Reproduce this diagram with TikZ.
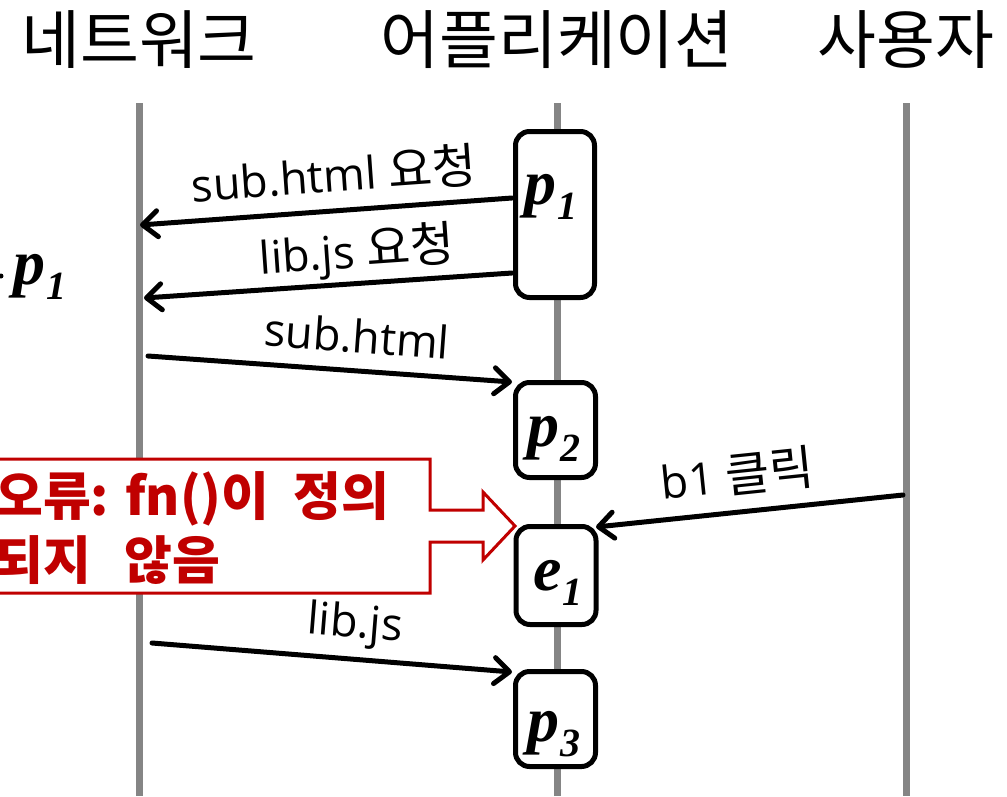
\documentclass[tikz,border=0pt]{standalone}
\usepackage{fontspec}
\setmainfont{Open Sans}
\newfontfamily\kr{Noto Sans CJK KR}
\newfontfamily\lser{Liberation Serif}
\usetikzlibrary{arrows.meta}
\definecolor{lifegray}{HTML}{858585}
\definecolor{errred}{HTML}{C00000}
\newcommand{\evlbl}[2]{{\lser\bfseries\itshape\fontsize{64}{64}\selectfont #1}\kern1pt\raisebox{-15pt}{\lser\bfseries\itshape\fontsize{40}{40}\selectfont #2}}
\newcommand{\krl}[1]{{\kr\fontsize{48}{48}\selectfont #1}}
\tikzset{
  hdr/.style={font=\kr\fontsize{64}{64}\selectfont, inner sep=0pt},
  life/.style={draw=lifegray, line width=7pt},
  evbox/.style={draw=black, fill=white, line width=5pt, rounded corners=14pt, inner sep=0pt},
  evtext/.style={inner sep=0pt, anchor=base},
  msg/.style={line width=5pt, line cap=round, -{Straight Barb[length=15pt,width=26pt,round]}},
  msglbl/.style={font=\fontsize{45}{45}\selectfont, inner sep=0pt},
  callout/.style={draw=errred, fill=white, line width=3pt},
  errtext/.style={font=\kr\bfseries\fontsize{52}{64}\selectfont, text=errred, align=left, inner sep=0pt}
}
\begin{document}
\begin{tikzpicture}[x=1pt,y=-1pt]
\useasboundingbox (0,0) rectangle (1007,796);
% headers
\node[hdr] (hnet) at (139,40) {네트워크};
\node[hdr] (happ) at (557,40) {어플리케이션};
\node[hdr] (husr) at (906,40) {사용자};
% lifelines
\coordinate (nettop) at (139,103); \coordinate (netbot) at (139,796);
\coordinate (apptop) at (557,103); \coordinate (appbot) at (557,796);
\coordinate (usrtop) at (906,103); \coordinate (usrbot) at (906,796);
\draw[life] (nettop) -- (netbot);
\draw[life] (apptop) -- (appbot);
\draw[life] (usrtop) -- (usrbot);
% event boxes
\node[evbox, minimum width=79pt, minimum height=166pt] (bp1) at (555,214.5) {};
\node[evbox, minimum width=80pt, minimum height=95pt] (bp2) at (555.5,430) {};
\node[evbox, minimum width=80pt, minimum height=98pt] (be1) at (556,575.5) {};
\node[evbox, minimum width=80pt, minimum height=95pt] (bp3) at (555.5,719) {};
\node[evtext] (lp1) at (551,204) {\evlbl{p}{1}};
\node[evtext] (lp2) at (554,446) {\evlbl{p}{2}};
\node[evtext] (le1) at (558,590) {\evlbl{e}{1}};
\node[evtext] (lp3) at (554,741) {\evlbl{p}{3}};
% left cut-off label
\node[evtext, anchor=base west] (lpleft) at (13,284) {\evlbl{p}{1}};
\fill (1,276) circle (2.5pt);
% messages
\coordinate (m1s) at (512,198); \coordinate (m1e) at (140,225);
\coordinate (m2s) at (512,273); \coordinate (m2e) at (144,298);
\coordinate (m3s) at (148,356); \coordinate (m3e) at (512,382);
\coordinate (m4s) at (903,495); \coordinate (m4e) at (596,527);
\coordinate (m5s) at (152,643); \coordinate (m5e) at (512,672);
\draw[msg] (m1s) -- (m1e);
\draw[msg] (m2s) -- (m2e);
\draw[msg] (m3s) -- (m3e);
\draw[msg] (m4s) -- (m4e);
\draw[msg] (m5s) -- (m5e);
\node[msglbl, rotate=4.1] (t1) at (334,174) {sub.html \krl{요청}};
\node[msglbl, rotate=4.0] (t2) at (357,253) {lib.js \krl{요청}};
\node[msglbl, rotate=-4.2] (t3) at (357,336) {sub.html};
\node[msglbl, rotate=5.9] (t4) at (737,474) {b1 \krl{클릭}};
\node[msglbl, rotate=-4.6] (t5) at (355,626) {lib.js};
% error callout
\draw[callout] (-10,459) -- (430,459) -- (430,510) -- (483,510) -- (483,492)
  -- (515,526) -- (483,560) -- (483,542) -- (430,542) -- (430,593) -- (-10,593) -- cycle;
\node[errtext, anchor=west] (err) at (-5,528) {오류:\hspace{16pt}fn()이\hspace{24pt}정의\\되지\hspace{34pt}않음};
\end{tikzpicture}
\end{document}
